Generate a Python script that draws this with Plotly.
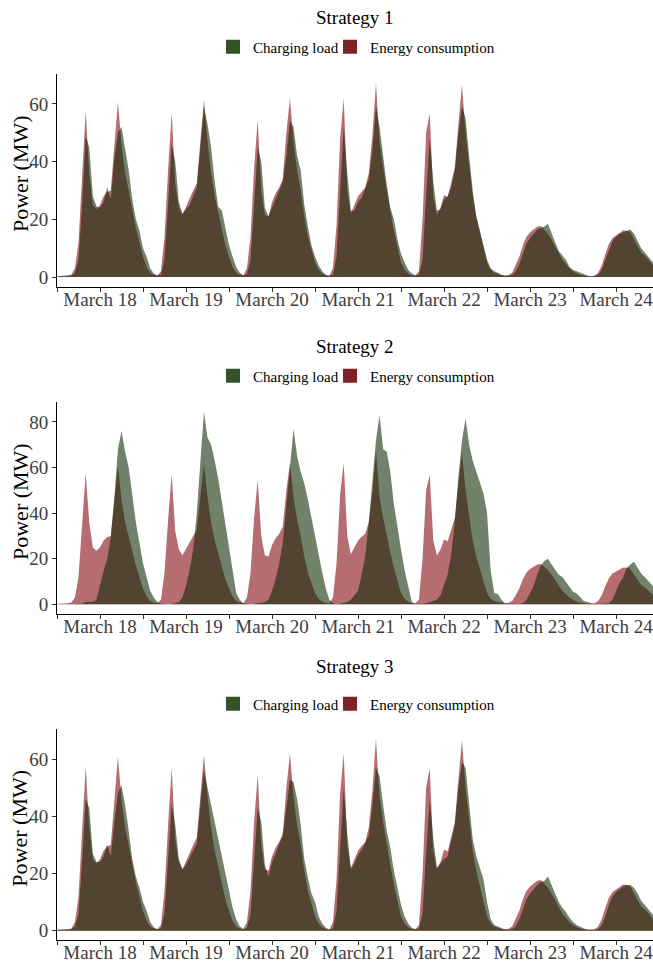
import pandas as pd
import plotly.graph_objects as go
from plotly.subplots import make_subplots

# ---------------------------------------------------------------- data
day_labels = ["March 18", "March 19", "March 20", "March 21",
              "March 22", "March 23", "March 24"]
series_names = ["Charging load", "Energy consumption"]
strategy_titles = ["Strategy 1", "Strategy 2", "Strategy 3"]
y_title = "Power (MW)"

# hourly values (MW), March 18 00:00 -> March 24 23:00, one row per day
energy_consumption = [
    0.3, 0.3, 0.4, 0.5, 0.8, 3, 12, 35, 57.5, 36, 25, 23.5, 25, 28, 29.5, 30, 45, 60.8, 46, 36, 30, 23, 17, 12,
    7, 3.5, 1.5, 0.8, 0.5, 2, 14, 37, 57, 32, 24, 21.5, 24.5, 27, 30, 32.5, 48, 61.5, 47, 36, 28, 22, 16, 11,
    7, 3.5, 1.5, 0.8, 0.5, 3, 14, 38, 54.5, 30, 21.5, 21, 26, 29, 31, 34, 50, 62, 47, 37, 30, 21, 14, 9,
    5, 2.5, 1.2, 0.6, 0.4, 3, 18, 48, 62, 30, 22, 25, 28, 29.6, 31, 36, 49, 67.2, 47, 38, 30, 23, 16, 10,
    5, 2.5, 1.2, 0.6, 0.5, 2, 20, 50, 56.8, 28, 21.5, 24, 28.4, 27.7, 33, 38, 53, 66.6, 50, 38, 28, 21, 16, 11,
    5, 2.5, 1.5, 1, 0.6, 0.5, 0.7, 1.5, 4, 7, 11, 14, 15.5, 16.5, 17.5, 17.7, 16.5, 15, 13, 10.5, 8, 6, 4.5, 3,
    2, 1.2, 0.8, 0.5, 0.3, 0.3, 0.5, 1.5, 4, 8, 11.5, 13.5, 14.5, 15.5, 16.2, 16, 15.5, 13, 10.5, 8.5, 7.5, 6, 4.5, 3.5,
]

charging_load_s1 = [
    0.2, 0.2, 0.3, 0.4, 0.5, 1.5, 6, 25, 49, 45, 28, 24.5, 24, 26, 31, 27, 41, 50, 52, 44, 37, 27, 20, 16,
    10, 7, 3, 1.2, 0.5, 0.8, 6, 25, 46, 40, 26, 22, 23.5, 25, 28, 31, 45, 59, 53, 45, 33, 24.4, 23, 17,
    11, 7, 3.5, 1.5, 0.6, 1, 6, 25, 45, 40, 24, 21, 24, 27, 29.5, 33, 42, 54, 52, 42, 37, 25, 17.5, 11,
    7, 4, 2, 0.8, 0.4, 0.8, 7, 30, 52, 36, 23, 23, 26, 27.5, 31, 34, 44, 59, 52, 41, 32, 24, 20, 13,
    8, 5, 2.4, 1.2, 0.6, 0.8, 6, 28, 48, 33, 23, 23.5, 27, 28, 31, 37, 50, 59, 55, 42, 30, 21, 16, 12,
    6, 3, 2, 1.5, 0.8, 0.4, 0.4, 0.8, 2, 4.5, 8, 11.5, 13.5, 15, 16.5, 17, 17.5, 18.5, 15, 12, 9, 7.5, 6, 3.5,
    2.4, 2, 1.5, 1, 0.5, 0.3, 0.3, 0.8, 2.5, 6, 9.5, 12.5, 14, 15, 15.5, 16, 16.5, 15, 12.5, 10, 8.5, 7, 5.5, 4,
]

charging_load_s2 = [
    0, 0, 0, 0, 0, 0, 0, 0.3, 1, 1, 1.2, 2, 9, 14.5, 20, 29, 47, 68, 76, 67, 60, 48, 36, 27,
    18, 12, 6, 3, 1, 0.3, 0, 0, 0.2, 0.5, 1, 3, 8, 15, 24, 40, 62, 84.5, 73, 70, 63, 55, 45, 35,
    23, 13, 5, 2, 0.5, 0.2, 0, 0.2, 0.5, 0.8, 1, 2, 6, 11, 18, 27, 42, 60, 77, 65, 58, 53, 46, 38,
    29.6, 21, 14, 7, 2, 0.5, 0.2, 0.3, 0.8, 1, 2, 4, 6, 13, 21, 36, 54, 72, 82.9, 68, 67, 58, 44, 33,
    24, 15, 7.7, 1, 0.3, 0.2, 0.3, 0.5, 1, 1.2, 2, 4, 9, 13, 22, 36, 56, 72, 81.5, 70, 63, 58, 53, 48.6,
    40, 15, 5, 4.5, 2, 0.5, 0.3, 0.2, 0.2, 0.3, 0.5, 2, 5, 8, 13, 17, 19, 20, 17.5, 15, 13, 12, 10, 7.5,
    5.5, 4.8, 3, 1.5, 1, 0.5, 0.2, 0.2, 0.3, 0.4, 0.5, 2, 6, 9.5, 12, 16, 17.5, 18.7, 16, 13.5, 12, 10, 8.5, 7,
]

charging_load_s3 = [
    0.2, 0.2, 0.3, 0.4, 0.5, 1.5, 6, 24, 46, 43, 27, 24, 24, 26, 30, 26, 38, 48, 51, 44, 35, 25, 19, 15,
    10, 7, 3, 1.2, 0.5, 0.8, 6, 24, 44, 37, 25, 21.5, 23, 25.5, 28, 30.5, 44, 56, 50, 44, 37, 31, 25, 20,
    14, 8, 4, 1.5, 0.6, 1, 6, 24, 43, 38, 23, 19, 24, 27, 30.5, 33, 44, 53, 52, 46, 37, 25, 18.5, 13,
    10, 5, 2.5, 1, 0.4, 0.8, 7, 30, 50, 34, 21.5, 23.5, 26.5, 28.3, 30.5, 33.5, 44, 57, 54, 44, 35, 29, 21, 15,
    9, 5, 2.5, 1, 0.5, 0.8, 6, 27, 46, 32, 22, 23.5, 25, 26, 31, 37, 50, 59, 57, 45, 32, 26, 22, 18,
    10, 4, 2, 1.5, 0.8, 0.4, 0.3, 0.6, 1.5, 4, 7.5, 11, 13, 14.5, 16, 17, 17.5, 19, 16, 13, 10, 8, 6.5, 4.5,
    3, 2, 1.3, 0.8, 0.4, 0.3, 0.3, 0.6, 2, 5, 9, 12, 13.5, 14.5, 15.5, 16, 16, 15, 13, 10.5, 9, 7.5, 6, 4.5,
]

charging_by_strategy = [charging_load_s1, charging_load_s2, charging_load_s3]

# ---------------------------------------------------------------- styling
W, H = 653, 962
ML = 57                      # left margin; plot area spans ML..W
FONT = "Liberation Serif"
GREEN_FILL = "rgba(10,40,0,0.58)"
RED_FILL = "rgba(135,20,28,0.62)"
KEY_COLORS = ["#34532b", "#7f2226"]

# panel geometry in pixels (top, bottom) and title / legend rows
panel_px = [(73.5, 286.7), (402, 614), (729, 940.3)]
title_px = [18, 347, 666]
legend_px = [47, 376, 704]
legend_box_left_px = [213, 330]   # one legend box per series


def px_x(px):
    return (px - ML) / (W - ML)


def py(px):
    return 1 - px / H


timestamps = pd.date_range("2021-03-18 00:00", periods=len(energy_consumption), freq="h")
start = timestamps[0]
x_end = start + pd.Timedelta(hours=166.3)
tick_vals = [start + pd.Timedelta(hours=12 * k) for k in range(14)]
tick_text = []
for lab in day_labels:
    tick_text += ["", lab]

fig = make_subplots(rows=3, cols=1)

legend_layout = {}
for i, charging in enumerate(charging_by_strategy):
    row = i + 1
    fig.add_trace(go.Scatter(
        x=timestamps, y=energy_consumption, mode="lines", line=dict(width=0),
        fill="tozeroy", fillcolor=RED_FILL, showlegend=False, hoverinfo="skip",
    ), row=row, col=1)
    fig.add_trace(go.Scatter(
        x=timestamps, y=charging, mode="lines", line=dict(width=0),
        fill="tozeroy", fillcolor=GREEN_FILL, showlegend=False, hoverinfo="skip",
    ), row=row, col=1)

    # legend keys: each series gets its own small legend box on the panel's legend row
    for j, (name, col) in enumerate(zip(series_names, KEY_COLORS)):
        n = 2 * i + j + 1
        lid = "legend" if n == 1 else f"legend{n}"
        fig.add_trace(go.Scatter(
            x=[None], y=[None], mode="markers", name=name,
            marker=dict(symbol="square", size=14, color=col, line=dict(width=0)),
            legend=lid, showlegend=True,
        ), row=row, col=1)
        legend_layout[lid] = dict(
            x=px_x(legend_box_left_px[j]), y=py(legend_px[i]),
            orientation="h", xanchor="left", yanchor="middle",
            font=dict(family=FONT, size=15, color="black"),
            bgcolor="rgba(0,0,0,0)", itemwidth=30,
        )

    ymax = max(max(energy_consumption), max(charging))
    top, bottom = panel_px[i]
    axis_common = dict(
        showline=True, linecolor="black", linewidth=1, mirror=False,
        ticks="outside", ticklen=4, tickwidth=1, tickcolor="#333333",
        showgrid=False, zeroline=False,
        tickfont=dict(family=FONT, size=19, color="#3d3d3d"),
    )
    fig.update_xaxes(
        type="date", range=[start, x_end], domain=[0, 1],
        tickmode="array", tickvals=tick_vals, ticktext=tick_text,
        ticklabeloverflow="allow", ticklabelstandoff=-9,
        row=row, col=1, **axis_common,
    )
    fig.update_yaxes(
        range=[-0.05 * ymax, 1.05 * ymax], domain=[py(bottom), py(top)],
        dtick=20, tick0=0, automargin=False,
        row=row, col=1, **axis_common,
    )

    fig.add_annotation(
        text=strategy_titles[i], x=px_x(355), y=py(title_px[i]),
        xref="paper", yref="paper", xanchor="center", yanchor="middle",
        showarrow=False, font=dict(family=FONT, size=19, color="black"),
    )
    fig.add_annotation(
        text=y_title, textangle=-90, x=px_x(20), y=py((top + bottom) / 2 - 6),
        xref="paper", yref="paper", xanchor="center", yanchor="middle",
        showarrow=False, font=dict(family=FONT, size=22, color="black"),
    )

fig.update_layout(
    width=W, height=H,
    margin=dict(l=ML, r=0, t=0, b=0),
    paper_bgcolor="white", plot_bgcolor="white",
    **legend_layout,
)
fig.update_xaxes(automargin=False)

fig.write_html("out.html")
